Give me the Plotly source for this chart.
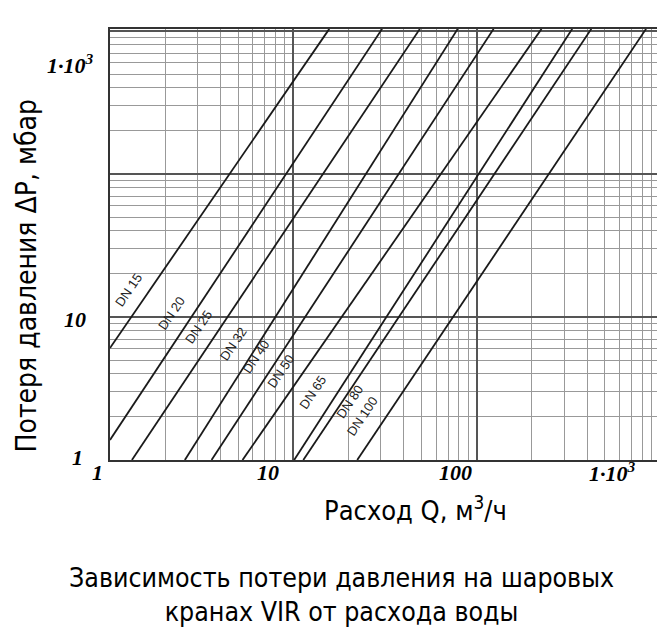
import numpy as np
import plotly.graph_objects as go

# ---- data ----
series_names = ["DN 15", "DN 20", "DN 25", "DN 32", "DN 40", "DN 50", "DN 65", "DN 80", "DN 100"]
# line start point (Q, dP) and end point (Q, dP)
q_start = [1.0, 1.0, 1.317, 2.56, 3.58, 5.28, 10.1, 11.33, 22.3]
p_start = [6.07, 1.38, 1.0, 1.0, 1.0, 1.0, 1.0, 1.0, 1.0]
q_end = [15.7, 30.5, 49.0, 78.8, 123.7, 225.6, 332.0, 422.0, 839.0]
p_end = [1035, 1035, 1035, 1035, 1035, 1035, 1035, 1035, 1035]
# where the DN labels sit (pressure value along each line) and side offset
label_p = [13.8, 9.5, 7.6, 5.8, 4.7, 3.74, 2.67, 2.3, 1.81]
label_dx = [-17, -18, -18, -20, -18, -19, -21, 12, -20]
label_dy = 7

x_tick_vals = [1, 10, 100, 1000]
x_tick_text = ["1", "10", "100", "1·10<sup>3</sup>"]
x_tick_dx = [-13, -25, -21, -48]
y_tick_vals = [1, 10, 1000]
y_tick_text = ["1", "10", "1·10<sup>3</sup>"]
y_tick_dx = [-33, -35, -40]
y_tick_dy = [3, -2, -33]
minor_vals = [m * d for d in (1, 10, 100) for m in range(2, 10)]

x_title = "Расход Q, м<sup>3</sup>/ч"
y_title = "Потеря давления ΔP, мбар"
caption = "Зависимость потери давления на шаровых<br>кранах VIR от расхода воды"

sans = "Liberation Sans Narrow, DejaVu Sans Condensed, Liberation Sans, Arial, sans-serif"
serif = "Liberation Serif, Times New Roman, serif"
tick_font = dict(family=serif, size=22, color="black", weight="bold", style="italic")

fig = go.Figure()
for name, qa, pa, qb, pb in zip(series_names, q_start, p_start, q_end, p_end):
    fig.add_trace(go.Scatter(x=[qa, qb], y=[pa, pb], mode="lines", name=name,
                             line=dict(color="#1a1a1a", width=1.8), showlegend=False,
                             hoverinfo="skip"))

# DN labels on the lines
for name, qa, pa, qb, pb, lp, dx in zip(series_names, q_start, p_start, q_end, p_end, label_p, label_dx):
    t = (np.log10(lp) - np.log10(pa)) / (np.log10(pb) - np.log10(pa))
    lq = np.log10(qa) + t * (np.log10(qb) - np.log10(qa))
    fig.add_annotation(x=lq, y=np.log10(lp), xref="x", yref="y", text=name,
                       showarrow=False, textangle=-56, xshift=dx, yshift=label_dy,
                       xanchor="center", yanchor="middle",
                       font=dict(family="Liberation Sans, Arial, sans-serif", size=13, color="#222"))

# tick labels (placed at axis values, nudged as in the reference)
for v, txt, dx in zip(x_tick_vals, x_tick_text, x_tick_dx):
    fig.add_annotation(x=np.log10(v), y=0, xref="x", yref="paper", text=txt, showarrow=False,
                       xanchor="center", yanchor="middle", xshift=dx, yshift=-12, font=tick_font)
for v, txt, dx, dy in zip(y_tick_vals, y_tick_text, y_tick_dx, y_tick_dy):
    fig.add_annotation(x=0, y=np.log10(v), xref="paper", yref="y", text=txt, showarrow=False,
                       xanchor="center", yanchor="middle", xshift=dx, yshift=dy, font=tick_font)

axis_common = dict(
    type="log", showline=True, mirror=True, linecolor="#333", linewidth=2,
    showgrid=True, gridcolor="#555", gridwidth=2, ticks="", zeroline=False,
    showticklabels=False,
    minor=dict(tickvals=minor_vals, showgrid=True, gridcolor="#999999", gridwidth=1, ticks=""),
)

fig.update_xaxes(range=[0, 3.016], tickvals=x_tick_vals, **axis_common)
fig.update_yaxes(range=[0, 3.014], tickvals=[1, 10, 100, 1000], **axis_common)

fig.add_annotation(x=0.553, y=-0.112, xref="paper", yref="paper", text=x_title,
                   xanchor="center", yanchor="middle",
                   showarrow=False, font=dict(family=sans, size=27, color="black"))
fig.add_annotation(x=-0.151, y=0.427, xref="paper", yref="paper", text=y_title,
                   xanchor="center", yanchor="middle",
                   showarrow=False, textangle=-90, font=dict(family=sans, size=28, color="black"))
fig.add_annotation(x=0.418, y=-0.313, xref="paper", yref="paper", text=caption,
                   xanchor="center", yanchor="middle",
                   showarrow=False, font=dict(family=sans, size=26.5, color="black"))

fig.update_layout(width=665, height=639, margin=dict(l=102, r=8, t=21, b=187),
                  plot_bgcolor="white", paper_bgcolor="white")

fig.write_html("out.html")
